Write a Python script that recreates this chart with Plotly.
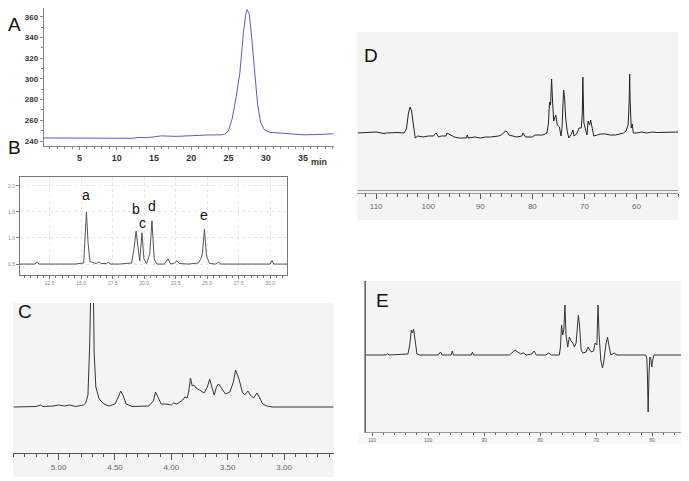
import plotly.graph_objects as go

# the page body keeps its default 8px margin, so the figure is drawn 8px smaller
W, H = 689, 481
OFF = 8
FW, FH = W - OFF, H - OFF

# ---- panel A: HPLC chromatogram (min, signal)
a_time = [0.2, 3, 5, 7, 10, 12, 13, 14, 15, 16, 18, 19.5, 20, 22, 24, 24.5, 25, 25.5, 26, 26.5,
          27, 27.3, 27.5, 27.8, 28.1, 28.5, 28.9, 29.3, 29.8, 30.5, 32, 34, 35, 37, 39.1]
a_signal = [243, 243, 243, 243.2, 242.5, 242.6, 243.5, 243.3, 244, 245, 244.5, 245, 245.5, 245.8, 246, 246.5,
            250, 262, 282, 305, 345, 362, 367, 362, 340, 305, 275, 258, 251, 248.5, 247.5, 246.5, 246, 246.3, 247]
a_ticks = [240, 260, 280, 300, 320, 340, 360]

# ---- panel B: GC chromatogram
b_time = [10.14, 11.3, 11.5, 11.7, 13, 14.5, 15.2, 15.3, 15.42, 15.55, 15.7, 15.9, 16.2, 16.4, 16.6, 17.0, 17.15,
          17.3, 18, 19.0, 19.2, 19.36, 19.5, 19.65, 19.83, 19.98, 20.2, 20.45, 20.62, 20.8, 21.0, 21.6, 21.9, 22.1,
          22.4, 22.6, 22.8, 23.5, 24.3, 24.5, 24.62, 24.79, 24.95, 25.2, 25.7, 25.9, 26.1, 28, 30.0, 30.15, 30.3, 31.34]
b_signal = [0.5, 0.5, 0.53, 0.5, 0.5, 0.5, 0.52, 0.9, 1.5, 0.9, 0.55, 0.53, 0.51, 0.54, 0.51, 0.51, 0.54,
            0.5, 0.5, 0.52, 0.8, 1.13, 0.8, 0.56, 1.10, 0.6, 0.51, 0.7, 1.33, 0.6, 0.5, 0.5, 0.6, 0.5,
            0.52, 0.56, 0.51, 0.5, 0.52, 0.6, 0.7, 1.17, 0.65, 0.51, 0.5, 0.54, 0.5, 0.5, 0.5, 0.57, 0.5, 0.5]
b_xticks = [12.5, 15.0, 17.5, 20.0, 22.5, 25.0, 27.5, 30.0]
b_yticks = [0.5, 1.0, 1.5, 2.0]
b_peak_names = ["a", "b", "c", "d", "e"]
b_peak_x = [15.42, 19.36, 19.9, 20.62, 24.79]
b_peak_label_y = [1.83, 1.56, 1.29, 1.62, 1.44]

# ---- panel C: 1H NMR (ppm, intensity)
c_ppm = [5.40, 5.2, 5.16, 5.14, 5.05, 5.0, 4.95, 4.9, 4.85, 4.78, 4.76, 4.74, 4.725, 4.71, 4.70, 4.685, 4.67,
         4.64, 4.60, 4.55, 4.50, 4.47, 4.45, 4.43, 4.40, 4.35, 4.20, 4.16, 4.14, 4.12, 4.09, 4.05, 4.0, 3.98,
         3.95, 3.90, 3.88, 3.86, 3.845, 3.83, 3.815, 3.80, 3.78, 3.75, 3.71, 3.68, 3.66, 3.64, 3.62, 3.60, 3.58,
         3.55, 3.52, 3.48, 3.45, 3.43, 3.40, 3.37, 3.35, 3.32, 3.30, 3.27, 3.24, 3.22, 3.19, 3.15, 3.10, 2.56]
c_int = [0, 0.5, 2, 0.5, 1, 2, 1, 2, 0.5, 2, 4, 12, 60, 200, 200, 55, 20,
         8, 3, 1, 3, 10, 16, 12, 3, 0.5, 1, 6, 15, 10, 3, 3, 2, 4,
         3, 7, 10, 9, 16, 29, 21, 22, 19, 17, 14, 20, 28, 20, 12, 20, 23,
         18, 13, 15, 25, 37, 28, 15, 12, 16, 12, 9, 14, 10, 3, 1, 0, 0]
c_ticks = [5.00, 4.50, 4.00, 3.50, 3.00]

# ---- panel D: 13C NMR
d_ppm = [113.6, 112, 110, 108.5, 108, 106, 104.6, 104.2, 104.0, 103.8, 103.5, 103.2, 103.0, 102.8, 102.5, 102,
         101, 100, 99, 98.5, 98, 97.5, 96.6, 96.4, 95, 94, 92.7, 92.5, 92.3, 91, 90, 89, 88, 86.5, 86, 85.5,
         85.2, 84.8, 84.5, 83, 82, 81.8, 81.3, 80, 79.5, 78, 77.2, 76.9, 76.7, 76.5, 76.3, 76.1, 75.9, 75.5,
         75.2, 74.8, 74.5, 74.3, 74.1, 74.0, 73.8, 73.6, 73.3, 73.0, 72.5, 72.2, 72, 71.5, 71, 70.6, 70.4,
         70.3, 70.1, 69.8, 69.5, 69.3, 69.0, 68.8, 68.5, 68.2, 67.5, 67, 66, 65, 64, 63, 62.5, 62, 61.6, 61.4,
         61.3, 61.2, 61.0, 60.8, 60.6, 60, 59, 58, 57, 56, 54, 52]
d_int = [0, 0.5, 1, -0.5, 0, 0.5, 0, 4, 12, 20, 26, 22, 14, 5, -5, -3,
         -4, -3, -3, 0, -4, -3, -3, 0, -4, -5, -5, -2, -5, -4, -5, -4, -4, -3, -2, 0,
         2, 1, -2, -4, -3, 0, -4, -4, -2, -2, 0, 10, 31, 28, 54, 30, 12, 18,
         8, 6, -3, 5, 30, 43, 35, 15, 2, -5, -1, 3, -3, -1, 5, 5, 20,
         56, 10, 3, -2, 12, 8, 13, 4, -3, -2, -1, -1, -2, -2, -1, 0, 2, 8, 30,
         59, 30, 5, 9, 0, 0, 1, 0, 1, 0.5, 1, 1]
d_ticks = [110, 100, 90, 80, 70, 60]

# ---- panel E: DEPT 135
e_ppm = [111.2, 108, 107.5, 107.2, 107, 103.6, 103.3, 103.0, 102.8, 102.6, 102.3, 102.0, 101.5, 98.2, 97.8,
         97.5, 95.9, 95.7, 95.5, 92.3, 92.1, 91.9, 85.5, 85, 84.5, 84, 83.5, 83, 82.5, 81.5, 81.1, 80.7, 79,
         78.5, 78, 76.6, 76.4, 76.2, 76.0, 75.8, 75.6, 75.4, 75.1, 74.8, 74.5, 74.2, 73.9, 73.6, 73.2, 73.0,
         72.7, 72.4, 71.8, 71.5, 71.2, 70.9, 70.5, 70.2, 69.9, 69.7, 69.5, 69.2, 68.9, 68.7, 68.3, 68, 67.7,
         67.4, 66.8, 66.3, 61.2, 61, 60.9, 60.75, 60.6, 60.45, 60.3, 60.1, 59.9, 59.7, 54.7]
e_int = [0, 0, 0, 1.5, 0, 1, 10, 25, 22, 26, 10, 1, 0, 0, 3,
         0, 0, 4, 0, 0, 3, 0, 0, 3, 5, 3, 1, 2, 0, 1, 4, 0, 0,
         2, 0, 0, 8, 30, 20, 25, 50, 20, 8, 18, 14, 12, 8, 12, 40, 30,
         5, 2, 3, 8, 5, 3, 4, 12, 10, 50, 20, -5, -13, -8, 10, 18, 8,
         0, 2, 0, 0, -3, -15, -57, -20, -2, -3, -12, -4, 0, 0]
e_ticks = [110, 100, 90, 80, 70, 60]


def dx(p):
    return (p - OFF) / FW


def dy(p):
    return 1 - (p - OFF) / FH


fig = go.Figure()
fig.add_trace(go.Scatter(x=a_time, y=a_signal, mode="lines", line=dict(color="#5a5ad0", width=1),
                         xaxis="x", yaxis="y", cliponaxis=False))
fig.add_trace(go.Scatter(x=b_time, y=b_signal, mode="lines", line=dict(color="#555555", width=1),
                         xaxis="x2", yaxis="y2"))
fig.add_trace(go.Scatter(x=c_ppm, y=c_int, mode="lines", line=dict(color="#333333", width=1),
                         xaxis="x3", yaxis="y3"))
fig.add_trace(go.Scatter(x=d_ppm, y=d_int, mode="lines", line=dict(color="#222222", width=1),
                         xaxis="x4", yaxis="y4"))
fig.add_trace(go.Scatter(x=e_ppm, y=e_int, mode="lines", line=dict(color="#333333", width=1),
                         xaxis="x5", yaxis="y5"))

gray = "#888888"
lab = dict(family="Liberation Sans, Arial", color="#666666")

fig.update_layout(
    width=FW, height=FH, autosize=False, showlegend=False,
    margin=dict(l=0, r=0, t=0, b=0),
    paper_bgcolor="white", plot_bgcolor="rgba(0,0,0,0)",
    # A
    xaxis=dict(domain=[dx(39), dx(331)], range=[0.2, 39.1], anchor="y",
               tickvals=[5, 10, 15, 20, 25, 30, 35], ticks="outside", ticklen=3, tickcolor=gray,
               showline=True, linecolor=gray, showgrid=False, zeroline=False,
               minor=dict(dtick=1, ticks="outside", ticklen=2, tickcolor=gray),
               tickfont=dict(family="Liberation Sans, Arial", size=9, color="#333", weight="bold")),
    yaxis=dict(domain=[dy(146), 1], range=[235.2, 235.2 + 138.2 * (146 - OFF) / 143], anchor="x",
               tickvals=a_ticks, ticks="outside", ticklen=3, tickcolor=gray,
               showline=True, linecolor=gray, showgrid=False, zeroline=False,
               minor=dict(dtick=10, ticks="outside", ticklen=2, tickcolor=gray),
               tickfont=dict(family="Liberation Sans, Arial", size=8, color="#333", weight="bold")),
    # B
    xaxis2=dict(domain=[dx(15), dx(284)], range=[10.14, 31.34], anchor="y2",
                tickvals=b_xticks, ticktext=[f"{v:.1f}" for v in b_xticks],
                ticks="outside", ticklen=3, tickcolor="#777",
                showline=True, linecolor="#777", mirror=True, zeroline=False,
                showgrid=True, gridcolor="#e4e4e4", griddash="dot",
                minor=dict(dtick=0.5, ticks="outside", ticklen=2, tickcolor="#777"),
                tickfont=dict(family="Liberation Sans, Arial", size=5, color="#888")),
    yaxis2=dict(domain=[dy(275), dy(177)], range=[0.29, 2.17], anchor="x2",
                tickvals=b_yticks, ticktext=[f"{v:.1f}" for v in b_yticks],
                ticks="outside", ticklen=3, tickcolor="#777",
                showline=True, linecolor="#777", mirror=True, zeroline=False,
                showgrid=True, gridcolor="#e4e4e4", griddash="dot",
                tickfont=dict(family="Liberation Sans, Arial", size=5, color="#888")),
    # C
    xaxis3=dict(domain=[dx(8), dx(331)], range=[5.405, 2.56], anchor="y3",
                tickvals=c_ticks, ticktext=[f"{v:.2f}" for v in c_ticks],
                ticks="outside", ticklen=6, tickcolor="#555",
                showline=True, linecolor="#555", showgrid=False, zeroline=False,
                minor=dict(dtick=0.1, ticks="outside", ticklen=3, tickcolor="#555"),
                tickfont=dict(size=8, **lab)),
    yaxis3=dict(domain=[dy(453), dy(303)], range=[-46, 104], anchor="x3", visible=False),
    # D
    xaxis4=dict(domain=[dx(355), dx(678)], range=[113.6, 52], anchor="y4",
                tickvals=d_ticks, ticks="outside", ticklen=5, tickcolor="#555",
                showline=True, linecolor="#999", linewidth=1, showgrid=False, zeroline=False,
                minor=dict(dtick=2, ticks="outside", ticklen=3, tickcolor="#555"),
                tickfont=dict(size=8, **lab)),
    yaxis4=dict(domain=[dy(193), dy(32)], range=[-60, 101], anchor="x4", visible=False),
    # E
    xaxis5=dict(domain=[dx(363), dx(682)], range=[111.2, 54.7], anchor="y5",
                tickvals=e_ticks, ticks="outside", ticklen=3, tickcolor="#666",
                showline=True, linecolor="#999", showgrid=False, zeroline=False,
                minor=dict(dtick=2, ticks="outside", ticklen=2, tickcolor="#666"),
                tickfont=dict(size=5, **lab)),
    yaxis5=dict(domain=[dy(432), dy(281)], range=[-77, 74], anchor="x5", side="right",
                showticklabels=False, ticks="outside", ticklen=3, tickcolor="#aaa", dtick=6,
                showline=True, linecolor="#aaa", mirror=True, showgrid=False, zeroline=False),
)

shapes = [
    # C background
    dict(type="rect", xref="paper", yref="paper", x0=dx(8), x1=dx(331), y0=dy(477), y1=dy(303),
         fillcolor="#f4f4f4", line=dict(width=0), layer="below"),
    # D background
    dict(type="rect", xref="paper", yref="paper", x0=dx(355), x1=dx(678), y0=dy(220), y1=dy(32),
         fillcolor="#f4f4f4", line=dict(width=0), layer="below"),
    dict(type="line", xref="paper", yref="paper", x0=dx(355), x1=dx(678), y0=dy(190.5), y1=dy(190.5),
         line=dict(color="#999", width=1)),
    # E background
    dict(type="rect", xref="paper", yref="paper", x0=dx(363), x1=dx(682), y0=dy(432), y1=dy(281),
         fillcolor="#f4f4f4", line=dict(width=0), layer="below"),
    dict(type="rect", xref="paper", yref="paper", x0=dx(356), x1=dx(686), y0=dy(444), y1=dy(432),
         fillcolor="#f8f8f8", line=dict(width=0), layer="below"),
    dict(type="line", xref="paper", yref="paper", x0=dx(363), x1=dx(363), y0=dy(432), y1=dy(281),
         line=dict(color="#666", width=1.2)),
]
fig.update_layout(shapes=shapes)

ann = []
letter = dict(family="Liberation Sans, Arial", size=19, color="#111")
for t, x, y in [("A", 10, 24), ("B", 10, 147), ("C", 20, 311), ("D", 369, 55), ("E", 380, 300)]:
    ann.append(dict(text=t, x=dx(x), y=dy(y), xref="paper", yref="paper", showarrow=False,
                    xanchor="center", yanchor="middle", font=letter))
for name, x, y in zip(b_peak_names, b_peak_x, b_peak_label_y):
    ann.append(dict(text=name, x=x, y=y, xref="x2", yref="y2", showarrow=False,
                    xanchor="center", yanchor="middle",
                    font=dict(family="Liberation Sans, Arial", size=14, color="#111")))
ann.append(dict(text="min", x=dx(316), y=dy(155), xref="paper", yref="paper", showarrow=False,
                font=dict(family="Liberation Sans, Arial", size=9, color="#333", weight="bold")))
fig.update_layout(annotations=ann)

fig.write_html("out.html")
